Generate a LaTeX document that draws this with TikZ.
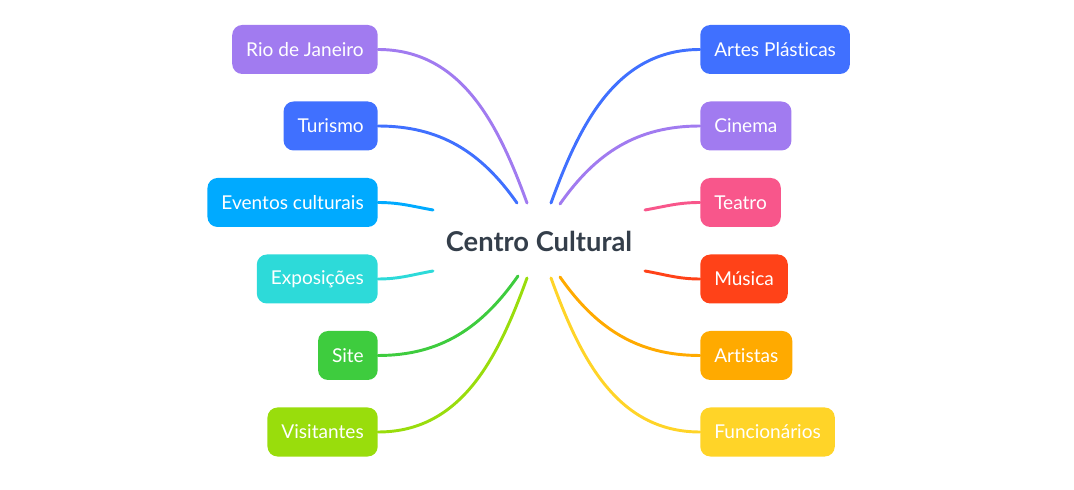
\documentclass[tikz,border=0pt]{standalone}
\usepackage{fontspec}
\setmainfont{Lato}[Ligatures=NoCommon]
\usepackage{xcolor}
\usetikzlibrary{positioning}

\definecolor{cPurple}{HTML}{A17BF0}
\definecolor{cBlue}{HTML}{4070FF}
\definecolor{cSky}{HTML}{00AAFF}
\definecolor{cTeal}{HTML}{2DDAD9}
\definecolor{cGreen}{HTML}{3ECC3E}
\definecolor{cLime}{HTML}{99DD0C}
\definecolor{cPink}{HTML}{F8568B}
\definecolor{cRed}{HTML}{FF4218}
\definecolor{cOrange}{HTML}{FFAA00}
\definecolor{cYellow}{HTML}{FFD428}
\definecolor{cCore}{HTML}{343E4A}

\begin{document}
\begin{tikzpicture}[
  x=0.75pt, y=0.75pt,
  topic/.style  = {rounded corners=7.5pt, text=white, font=\fontsize{14.3}{16}\selectfont,
                   minimum height=36.75pt, inner xsep=10.5pt, inner ysep=0pt},
  lefttopic/.style  = {topic, anchor=east},
  righttopic/.style = {topic, anchor=west},
  branch/.style = {line width=2.2pt, line cap=round},
]
\useasboundingbox (0,0) rectangle (1074,489);

% ---------- centre ----------
\node[font=\bfseries\fontsize{20.5}{22}\selectfont, text=cCore] (core) at (539,248) {Centro Cultural};

% ---------- left ----------
\node[lefttopic, fill=cPurple] (rio)    at (378,439.5) {Rio de Janeiro};
\node[lefttopic, fill=cBlue]   (tur)    at (378,363)   {Turismo};
\node[lefttopic, fill=cSky]    (evt)    at (378,286.5) {Eventos culturais};
\node[lefttopic, fill=cTeal]   (expo)   at (378,210)   {Exposições};
\node[lefttopic, fill=cGreen]  (site)   at (378,133.5) {Site};
\node[lefttopic, fill=cLime]   (visit)  at (378,57)    {Visitantes};

% ---------- right ----------
\node[righttopic, fill=cBlue]   (artes) at (700,439.5) {Artes Plásticas};
\node[righttopic, fill=cPurple] (cine)  at (700,363)   {Cinema};
\node[righttopic, fill=cPink]   (teat)  at (700,286.5) {Teatro};
\node[righttopic, fill=cRed]    (mus)   at (700,210)   {Música};
\node[righttopic, fill=cOrange] (art)   at (700,133.5) {Artistas};
\node[righttopic, fill=cYellow] (func)  at (700,57)    {Funcionários};

% branch ends next to the centre
\coordinate (rioE)   at (527,286);
\coordinate (turE)   at (517,286);
\coordinate (evtE)   at (433,279);
\coordinate (expoE)  at (433,218);
\coordinate (siteE)  at (518,213);
\coordinate (visitE) at (527,211);
\coordinate (artesE) at (551,286);
\coordinate (cineE)  at (560,285);
\coordinate (teatE)  at (645,279);
\coordinate (musE)   at (645,218);
\coordinate (artE)   at (560,212);
\coordinate (funcE)  at (551,211);

\draw[branch, cPurple] (rio.east)   to[out=0, in=110]  (rioE);
\draw[branch, cBlue]   (tur.east)   to[out=0, in=125]  (turE);
\draw[branch, cSky]    (evt.east)   to[out=0, in=170]  (evtE);
\draw[branch, cTeal]   (expo.east)  to[out=0, in=190]  (expoE);
\draw[branch, cGreen]  (site.east)  to[out=0, in=-125] (siteE);
\draw[branch, cLime]   (visit.east) to[out=0, in=-110] (visitE);

\draw[branch, cBlue]   (artes.west) to[out=180, in=70]  (artesE);
\draw[branch, cPurple] (cine.west)  to[out=180, in=55]  (cineE);
\draw[branch, cPink]   (teat.west)  to[out=180, in=10]  (teatE);
\draw[branch, cRed]    (mus.west)   to[out=180, in=-10] (musE);
\draw[branch, cOrange] (art.west)   to[out=180, in=-55] (artE);
\draw[branch, cYellow] (func.west)  to[out=180, in=-70] (funcE);

\end{tikzpicture}
\end{document}
